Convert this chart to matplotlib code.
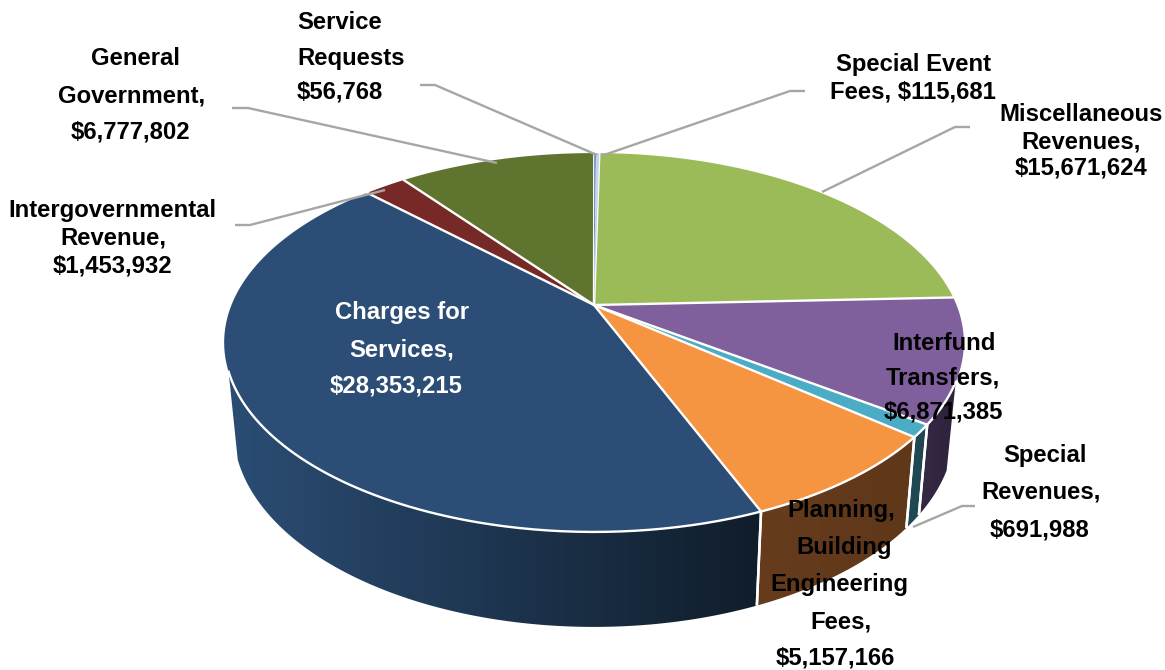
import numpy as np
import matplotlib
matplotlib.use("Agg")
import matplotlib.pyplot as plt
from matplotlib.colors import to_rgb
from matplotlib.patches import Polygon

plt.rcParams['font.family'] = ['Liberation Sans', 'DejaVu Sans']

# Data, clockwise from the largest slice's end
categories = ["Intergovernmental Revenue", "General Government", "Service Requests",
              "Special Event Fees", "Miscellaneous Revenues", "Interfund Transfers",
              "Special Revenues", "Planning, Building Engineering Fees", "Charges for Services"]
values = [1453932, 6777802, 56768, 115681, 15671624, 6871385, 691988, 5157166, 28353215]
top_colors = ["#772928", "#5f752f", "#4f81bd", "#c6d4ea", "#9bbb59", "#7f609d",
              "#4bacc6", "#f59542", "#2c4d75"]
wall_left = {5: "#352945", 6: "#1f4a54", 7: "#663c1d", 8: "#2b4d74"}
wall_right = {5: "#2e233b", 6: "#1f4750", 7: "#5f3719", 8: "#101d2b"}

# Label lines with (x, baseline y, ha)
labels = [
    (["Service", "Requests", "$56,768"], [(297, 29), (297, 65), (297, 98)], "left", "black"),
    (["General", "Government,", "$6,777,802"], [(136, 65), (132, 102), (130, 139)], "center", "black"),
    (["Intergovernmental", "Revenue,", "$1,453,932"], [(112, 217), (113, 244), (112, 272)], "center", "black"),
    (["Special Event", "Fees, $115,681"], [(913, 71), (913, 98)], "center", "black"),
    (["Miscellaneous", "Revenues,", "$15,671,624"], [(1081, 121), (1081, 148), (1081, 175)], "center", "black"),
    (["Charges for", "Services,", "$28,353,215"], [(402, 319), (402, 356), (396, 393)], "center", "white"),
    (["Interfund", "Transfers,", "$6,871,385"], [(944, 350), (943, 385), (943, 418)], "center", "black"),
    (["Special", "Revenues,", "$691,988"], [(1045, 462), (1041, 499), (1040, 536)], "center", "black"),
    (["Planning,", "Building", "Engineering", "Fees,", "$5,157,166"],
     [(841, 517), (844, 554), (839, 591), (841, 628), (835, 664)], "center", "black"),
]
leaders = [
    [(235, 225), (250, 225), (385, 190)],
    [(232, 108), (248, 108), (497, 163)],
    [(420, 85), (435, 85), (597, 155)],
    [(805, 91), (790, 91), (601, 156)],
    [(970, 127), (955, 127), (822, 192)],
    [(975, 506), (962, 506), (913, 527)],
]

# Projection of the tilted disc
CX, CY, A, B, K = 594.0, 305.0, 362.5, 182.0, 0.198
WALL_A, WALL_B, WALL_Y = 0.975 * A, 190.0, 390.0
START = 127.4 + 8.03
VIS_R, VIS_L = -23.0, -160.0


def top(theta):
    t = np.radians(theta)
    u, v = np.cos(t), np.sin(t)
    w = 1 + K * v
    return CX + A * u / w, CY - B * v / w


def bottom(theta):
    t = np.radians(theta)
    u, v = np.cos(t), np.sin(t)
    w = 1 + K * v
    return CX + WALL_A * u / w, WALL_Y - WALL_B * v / w


fig = plt.figure(figsize=(11.65, 6.70), dpi=100)
ax = fig.add_axes([0, 0, 1, 1])
ax.axis("off")

sweeps = 360 * np.array(values, dtype=float) / np.sum(values)
edges = START - np.concatenate([[0], np.cumsum(sweeps)])

# Walls: a horizontal gradient image clipped to each wall's outline
for i in range(len(values)):
    if i not in wall_left:
        continue
    a0 = min(edges[i], VIS_R)
    a1 = max(edges[i + 1], VIS_L)
    if a0 <= a1:
        continue
    th = np.linspace(a1, a0, max(int((a0 - a1) * 3), 4))
    tx, ty = top(th)
    bx, by = bottom(th)
    outline = list(zip(tx, ty)) + list(zip(bx[::-1], by[::-1]))
    xs, ys = zip(*outline)
    cl, cr = np.array(to_rgb(wall_left[i])), np.array(to_rgb(wall_right[i]))
    grad = np.linspace(0, 1, 256)[None, :, None]
    rgb = cl[None, None, :] + (cr - cl)[None, None, :] * grad
    clip = Polygon(outline, closed=True, transform=ax.transData, facecolor="none", edgecolor="none")
    ax.add_patch(clip)
    im = ax.imshow(rgb, extent=(min(xs), max(xs), max(ys), min(ys)), aspect="auto",
                   interpolation="bilinear", zorder=2)
    im.set_clip_path(clip)
    for b in (edges[i], edges[i + 1]):
        if VIS_L < b < VIS_R:
            lx, ly = zip(top(b), bottom(b))
            ax.plot(lx, ly, color="white", lw=1.8, zorder=3, solid_capstyle="butt")

# Top face fills
thin = (2, 3)
for i in range(len(values)):
    th = np.linspace(edges[i], edges[i + 1], max(int(sweeps[i] * 2), 3))
    x, y = top(th)
    pts = [(CX, CY)] + list(zip(x, y))
    ax.add_patch(Polygon(pts, closed=True, facecolor=top_colors[i], edgecolor="none",
                         zorder=5 if i in thin else 4))

# White slice borders and the front rim
for i, b in enumerate(edges[:-1]):
    if i in (3,):
        continue
    x, y = top(np.array([b]))
    ax.plot([CX, x[0]], [CY, y[0]], color="white", lw=1.7, zorder=4.5, solid_capstyle="round")
rim = np.linspace(VIS_L, VIS_R, 300)
x, y = top(rim)
ax.plot(x, y, color="white", lw=1.7, zorder=4.5)

# Leader lines
for pts in leaders:
    xs, ys = zip(*pts)
    ax.plot(xs, ys, color="#a6a6a6", lw=1.7, zorder=6, solid_capstyle="butt")

# Labels
for lines, pos, ha, col in labels:
    for s, (x, y) in zip(lines, pos):
        ax.text(x, y, s, ha=ha, va="baseline", fontsize=17.2, fontweight="bold", color=col, zorder=7)

ax.set_xlim(0, 1165)
ax.set_ylim(670, 0)
fig.savefig("out.png", dpi=100, facecolor="white")
